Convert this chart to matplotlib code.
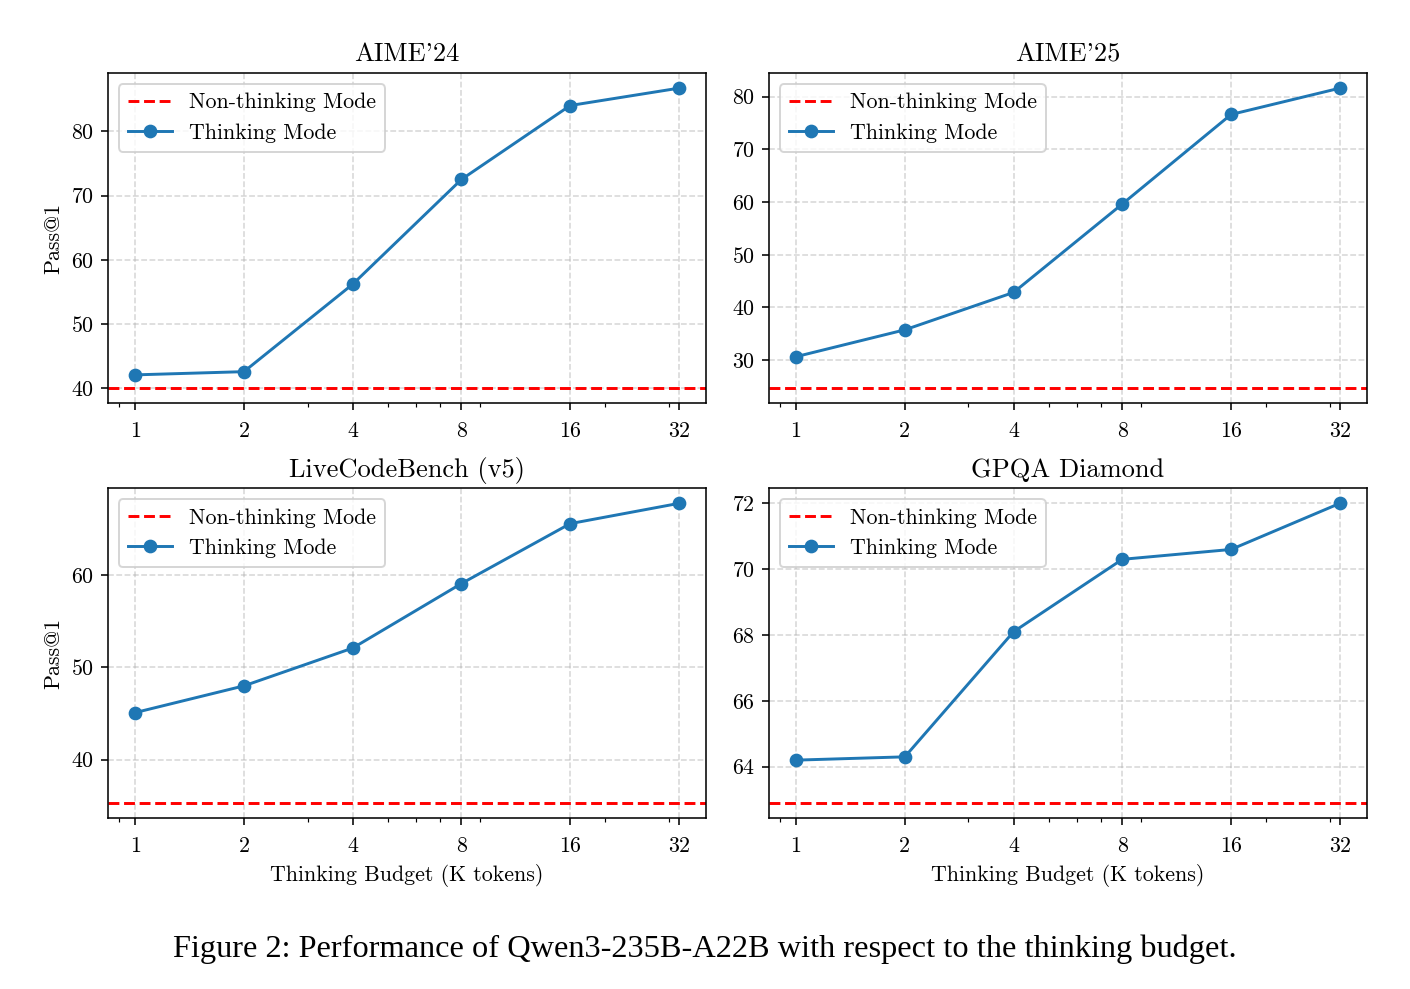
import matplotlib
matplotlib.use("Agg")
import matplotlib.pyplot as plt
from matplotlib.ticker import MultipleLocator

plt.rcParams["font.family"] = "serif"
plt.rcParams["font.serif"] = ["cmr10"]
plt.rcParams["mathtext.fontset"] = "cm"
plt.rcParams["axes.formatter.use_mathtext"] = True
plt.rcParams["font.size"] = 11.2
plt.rcParams["axes.titlesize"] = 13.5
plt.rcParams["xtick.major.pad"] = 6

# Thinking budget (K tokens)
budgets = [1, 2, 4, 8, 16, 32]

# Pass@1 per benchmark
titles = ["AIME'24", "AIME'25", "LiveCodeBench (v5)", "GPQA Diamond"]
thinking = [
    [42.1, 42.6, 56.2, 72.5, 84.0, 86.7],
    [30.6, 35.7, 42.8, 59.6, 76.6, 81.6],
    [45.1, 48.0, 52.1, 59.1, 65.6, 67.8],
    [64.2, 64.3, 68.1, 70.3, 70.6, 72.0],
]
non_thinking = [40.1, 24.7, 35.3, 62.9]
y_steps = [10, 10, 10, 2]

fig, axes = plt.subplots(2, 2, figsize=(10, 989 / 141), dpi=141)
plt.subplots_adjust(left=0.0766, right=0.9695, top=0.926, bottom=0.173,
                    wspace=0.105, hspace=0.26)

for i, ax in enumerate(axes.flat):
    ax.axhline(non_thinking[i], color="red", linestyle="--", linewidth=1.5,
               label="Non-thinking Mode")
    ax.plot(budgets, thinking[i], marker="o", color="tab:blue",
            linewidth=1.5, label="Thinking Mode")
    ax.set_xscale("log")
    ax.set_xticks(budgets)
    ax.set_xticklabels([str(b) for b in budgets])
    ax.yaxis.set_major_locator(MultipleLocator(y_steps[i]))
    ax.set_title(titles[i])
    ax.grid(True, linestyle="--", alpha=0.5)
    ax.legend(loc="upper left")
    if i % 2 == 0:
        ax.set_ylabel("Pass@1")
    if i >= 2:
        ax.set_xlabel("Thinking Budget (K tokens)")

fig.text(0.5, 1 - 957 / 989,
         "Figure 2: Performance of Qwen3-235B-A22B with respect to the thinking budget.",
         ha="center", va="baseline", fontsize=16.5, family="Liberation Serif")

plt.savefig("out.png", dpi=141)
